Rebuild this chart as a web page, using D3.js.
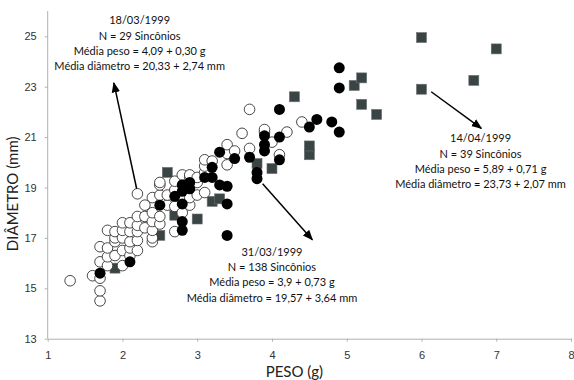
<!DOCTYPE html>
<html>
<head>
<meta charset="utf-8">
<script src="https://cdn.jsdelivr.net/npm/d3@7"></script>
<style>
  body { margin: 0; background: #fff; }
  svg { display: block; font-family: Lato, "Open Sans", sans-serif; }
  .axis path, .axis line { stroke: #b0b0b0; }
  .axis text { fill: #333; font-size: 11px; }
</style>
</head>
<body>
<div id="chart"></div>
<script>
// 18/03/1999 - open circles  [peso (g), diametro (mm)]
const openPts = [
  [1.3, 15.3], [1.6, 15.5], [1.7, 14.5], [1.7, 14.9], [1.7, 15.4], [1.7, 16.05], [1.7, 16.65],
  [1.8, 15.9], [1.8, 16.25], [1.8, 16.6], [1.8, 17.3], [1.9, 16.3], [1.9, 16.85], [1.9, 17.0], [1.9, 17.25],
  [2.0, 15.9], [2.0, 16.5], [2.0, 17.0], [2.0, 17.3], [2.0, 17.6], [2.1, 16.3], [2.1, 16.6],
  [2.1, 16.85], [2.1, 17.25], [2.1, 17.6], [2.2, 16.5], [2.2, 16.9], [2.2, 17.25], [2.2, 17.5],
  [2.2, 17.85], [2.2, 18.75], [2.3, 17.4], [2.3, 17.85], [2.3, 18.3], [2.4, 16.85], [2.4, 17.0],
  [2.4, 17.3], [2.4, 17.65], [2.4, 18.0], [2.4, 18.6], [2.5, 17.55], [2.5, 17.85], [2.5, 18.7],
  [2.5, 19.1], [2.5, 19.2], [2.6, 18.3], [2.6, 18.7], [2.7, 17.25], [2.7, 18.25], [2.7, 18.9],
  [2.7, 19.25], [2.8, 18.0], [2.8, 19.5], [2.9, 18.3], [2.9, 18.6], [2.9, 19.4], [2.9, 19.5],
  [3.0, 18.7], [3.0, 19.2], [3.0, 19.4], [3.1, 18.8], [3.1, 19.6], [3.1, 19.85], [3.1, 20.1],
  [3.2, 20.05], [3.4, 19.9], [3.4, 20.35], [3.4, 20.7], [3.5, 20.45], [3.6, 21.15], [3.7, 20.55],
  [3.7, 22.1], [3.9, 21.2], [3.9, 21.3], [4.0, 20.8], [4.1, 20.3], [4.2, 21.2], [4.4, 21.6]
];

// 31/03/1999 - filled circles
const filledPts = [
  [1.7, 15.6], [2.1, 16.05], [2.5, 18.3], [2.7, 18.65], [2.8, 17.3], [2.8, 17.65], [2.8, 18.35],
  [2.8, 18.85], [2.8, 19.1], [2.9, 18.95], [2.9, 19.2], [3.1, 19.4], [3.2, 19.4], [3.2, 19.8],
  [3.3, 19.1], [3.3, 20.4], [3.4, 17.1], [3.4, 18.35], [3.4, 19.05], [3.5, 20.15], [3.7, 20.2],
  [3.8, 19.35], [3.8, 19.6], [3.9, 20.45], [3.9, 20.7], [3.9, 21.05], [4.1, 20.1], [4.1, 21.0],
  [4.1, 22.1], [4.5, 21.4], [4.6, 21.7], [4.8, 21.6], [4.9, 21.2], [4.9, 22.95], [4.9, 23.75]
];

// 14/04/1999 - squares
const squarePts = [
  [1.9, 15.8], [2.5, 17.1], [2.6, 19.6], [2.7, 17.9], [3.0, 17.75], [3.2, 18.45], [3.3, 18.55],
  [3.8, 19.95], [4.0, 19.75], [4.3, 22.6], [4.5, 20.3], [4.5, 20.65], [5.1, 23.05], [5.2, 23.35],
  [5.2, 22.3], [5.4, 21.9], [6.0, 24.95], [6.0, 22.9], [6.7, 23.25], [7.0, 24.5]
];

const xTicks = [1, 2, 3, 4, 5, 6, 7, 8];
const yTicks = [13, 15, 17, 19, 21, 23, 25];

// annotation texts, anchor [x, y] in data units of first line
const noteDates = ["18/03/1999", "31/03/1999", "14/04/1999"];
const noteN = ["N = 29 Sincônios", "N = 138 Sincônios", "N = 39 Sincônios"];
const notePeso = ["Média peso = 4,09 + 0,30 g", "Média peso = 3,9 + 0,73 g", "Média peso = 5,89 + 0,71 g"];
const noteDiam = ["Média diâmetro = 20,33 + 2,74 mm", "Média diâmetro = 19,57 + 3,64 mm", "Média diâmetro = 23,73 + 2,07 mm"];
const noteAnchor = [[2.23, 25.48], [4.0, 16.3], [6.79, 20.8]];
// arrows: [from, to] in data units
const arrows = [
  [[2.19, 18.95], [1.885, 23.15]],
  [[3.875, 19.15], [4.54, 16.93]],
  [[6.13, 22.8], [6.8, 21.35]]
];

const W = 574, H = 380;
const svg = d3.select('#chart').append('svg').attr('width', W).attr('height', H);

const x = d3.scaleLinear().domain([1, 8]).range([47.7, 571]);
const y = d3.scaleLinear().domain([13, 26]).range([338.7, 11.1]);

// axes
const xAxis = svg.append('g').attr('class', 'axis')
  .attr('transform', 'translate(0,' + y(13) + ')')
  .call(d3.axisBottom(x).tickValues(xTicks).tickFormat(d3.format('d'))
    .tickSize(3).tickPadding(10).tickSizeOuter(0));
const yAxis = svg.append('g').attr('class', 'axis')
  .attr('transform', 'translate(' + x(1) + ',0)')
  .call(d3.axisLeft(y).tickValues(yTicks).tickFormat(d3.format('d'))
    .tickSize(3).tickPadding(8).tickSizeOuter(0));
yAxis.select('.domain').attr('d', 'M0,' + y(26) + 'V' + y(13));

svg.append('text')
  .attr('transform', 'translate(18,' + y(18.75) + ') rotate(-90)')
  .attr('text-anchor', 'middle')
  .attr('font-size', 15).attr('fill', '#222')
  .text('DIÂMETRO (mm)');
svg.append('text')
  .attr('x', x(4.3)).attr('y', 377)
  .attr('text-anchor', 'middle')
  .attr('font-size', 15).attr('fill', '#222')
  .text('PESO (g)');

// points
const s = 10;
svg.append('g').selectAll('rect').data(squarePts).enter().append('rect')
  .attr('x', d => x(d[0]) - s / 2).attr('y', d => y(d[1]) - s / 2)
  .attr('width', s).attr('height', s)
  .attr('fill', '#3b4444').attr('stroke', '#6a7070').attr('stroke-width', 0.6);

svg.append('g').selectAll('circle').data(openPts).enter().append('circle')
  .attr('cx', d => x(d[0])).attr('cy', d => y(d[1])).attr('r', 5.3)
  .attr('fill', '#fff').attr('stroke', '#333').attr('stroke-width', 0.9);

svg.append('g').selectAll('circle').data(filledPts).enter().append('circle')
  .attr('cx', d => x(d[0])).attr('cy', d => y(d[1])).attr('r', 5.5)
  .attr('fill', '#000');

// arrows
svg.append('defs').append('marker')
  .attr('id', 'arr').attr('viewBox', '0 0 10 10').attr('refX', 9).attr('refY', 5)
  .attr('markerWidth', 7).attr('markerHeight', 7).attr('orient', 'auto')
  .append('path').attr('d', 'M0,1L10,5L0,9z').attr('fill', '#000');

svg.append('g').selectAll('line').data(arrows).enter().append('line')
  .attr('x1', d => x(d[0][0])).attr('y1', d => y(d[0][1]))
  .attr('x2', d => x(d[1][0])).attr('y2', d => y(d[1][1]))
  .attr('stroke', '#000').attr('stroke-width', 1.5)
  .attr('marker-end', 'url(#arr)');

// notes
noteDates.forEach(function (dt, i) {
  const lines = [dt, noteN[i], notePeso[i], noteDiam[i]];
  const t = svg.append('text')
    .attr('text-anchor', 'middle').attr('font-size', 11).attr('fill', '#111');
  lines.forEach(function (l, j) {
    t.append('tspan').attr('x', x(noteAnchor[i][0]))
      .attr('y', y(noteAnchor[i][1]) + j * 15.4).text(l);
  });
});
</script>
</body>
</html>
